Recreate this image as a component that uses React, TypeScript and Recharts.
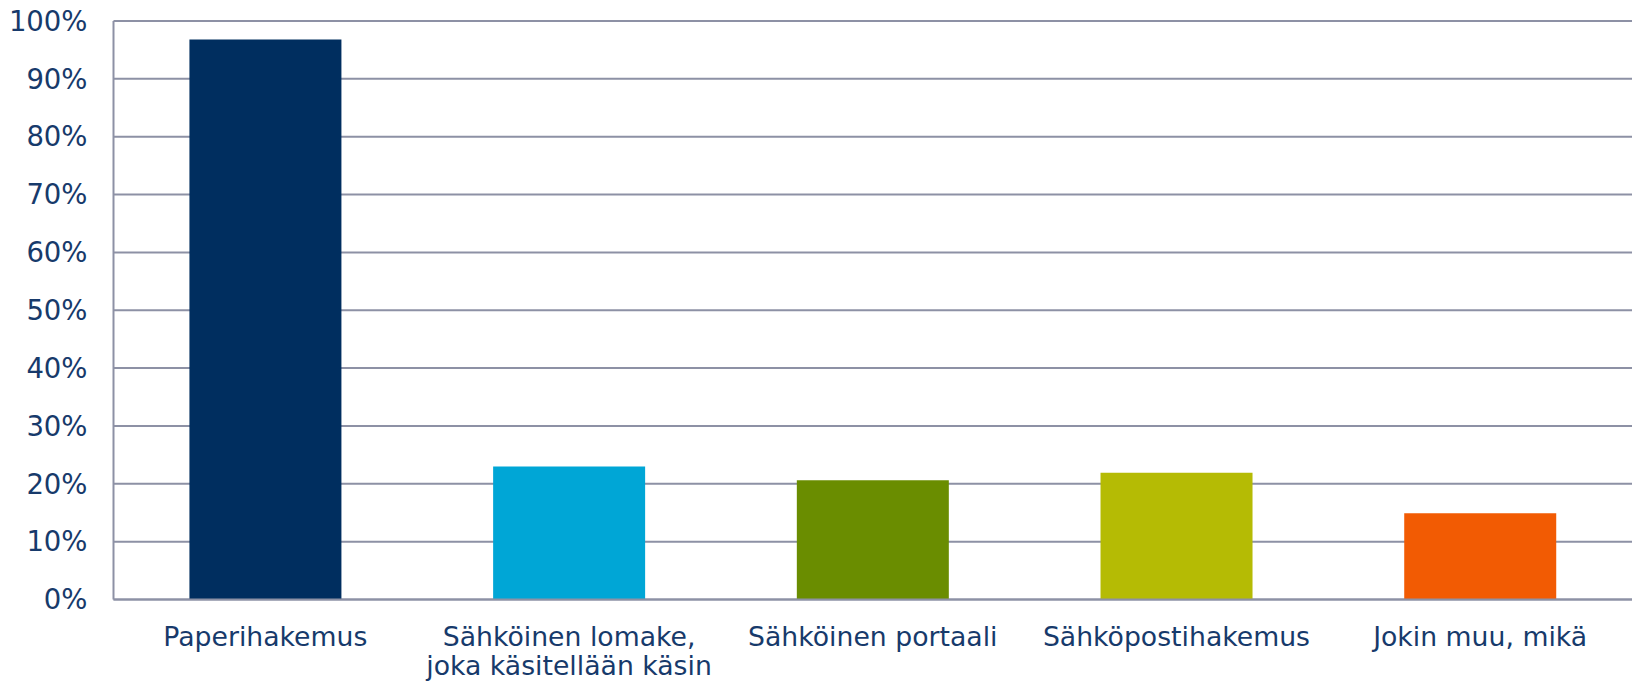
import { Bar, BarChart, CartesianGrid, Cell, XAxis, YAxis } from "recharts";

const categories = [
  "Paperihakemus",
  "Sähköinen lomake,\njoka käsitellään käsin",
  "Sähköinen portaali",
  "Sähköpostihakemus",
  "Jokin muu, mikä",
];
const shares = [96.8, 23.0, 20.6, 21.9, 14.9];
const barColors = ["#002e5f", "#00a6d6", "#6a8d00", "#b5bb04", "#f25b03"];
const yTicks = [0, 10, 20, 30, 40, 50, 60, 70, 80, 90, 100];

const data = categories.map((name, i) => ({ name, value: shares[i] }));

const TEXT = "#173a6b";
const GRID = "#8d91a5";
const FONT = "'DejaVu Sans', Verdana, sans-serif";

function CategoryTick({ x, y, payload }: any) {
  const lines = String(payload.value).split("\n");
  return (
    <text
      x={x}
      y={y}
      textAnchor="middle"
      fill={TEXT}
      fontSize={26.7}
      fontFamily={FONT}
    >
      {lines.map((l, i) => (
        <tspan key={i} x={x} dy={i === 0 ? 46 : 29.5}>
          {l}
        </tspan>
      ))}
    </text>
  );
}

export default function App() {
  return (
    <div style={{ position: "absolute", left: 0, top: 0, background: "#fff" }}>
      <BarChart
        width={1632}
        height={681}
        data={data}
        margin={{ top: 21, right: 0, bottom: 0, left: 0 }}
        barCategoryGap="25%"
      >
        <CartesianGrid vertical={false} stroke={GRID} strokeWidth={2} />
        <XAxis
          dataKey="name"
          height={81.5}
          tickSize={0}
          tickMargin={0}
          axisLine={{ stroke: GRID, strokeWidth: 2 }}
          tickLine={false}
          interval={0}
          tick={<CategoryTick />}
        />
        <YAxis
          domain={[0, 100]}
          ticks={yTicks}
          width={113.5}
          tickSize={0}
          tickMargin={26}
          tickLine={false}
          axisLine={{ stroke: GRID, strokeWidth: 2 }}
          tickFormatter={(v) => `${v}%`}
          tick={{ fill: TEXT, fontSize: 27.5, fontFamily: FONT }}
        />
        <Bar dataKey="value" isAnimationActive={false}>
          {data.map((_, i) => (
            <Cell key={i} fill={barColors[i]} />
          ))}
        </Bar>
      </BarChart>
    </div>
  );
}
